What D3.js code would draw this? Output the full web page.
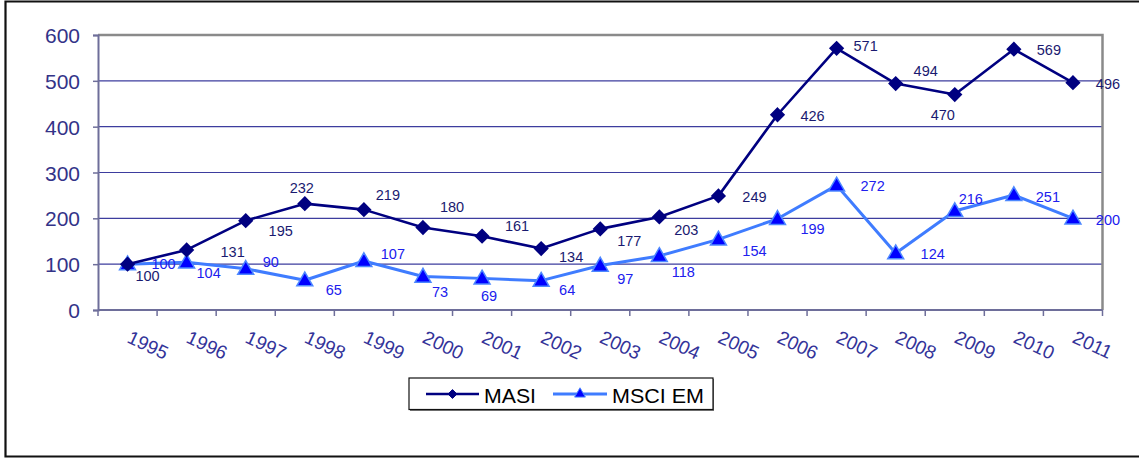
<!DOCTYPE html>
<html>
<head>
<meta charset="utf-8">
<script src="https://cdn.jsdelivr.net/npm/d3@7/dist/d3.min.js"></script>
<style>
  html, body { margin: 0; padding: 0; background: #fff; overflow: hidden; }
  svg { display: block; font-family: Arial, "Liberation Sans", sans-serif; }
</style>
</head>
<body>
<svg id="chart" width="1139" height="459"></svg>
<script>
// Index values, base 1995 = 100
const years = ["1995","1996","1997","1998","1999","2000","2001","2002","2003",
               "2004","2005","2006","2007","2008","2009","2010","2011"];
const masi   = [100, 131, 195, 232, 219, 180, 161, 134, 177, 203, 249, 426, 571, 494, 470, 569, 496];
const msciEm = [100, 104, 90, 65, 107, 73, 69, 64, 97, 118, 154, 199, 272, 124, 216, 251, 200];
const yTicks = [0, 100, 200, 300, 400, 500, 600];

// Hand-placed data label offsets (dx, dy) from each marker, in pixels
const masiLabelOffsets = [[20,12],[46,2],[35,10],[-3,-16],[24,-15],[29,-21],[35,-10],[30,8],
  [29,12],[27,13],[36,1],[35,1],[29,-3],[30,-13],[-12,20],[35,1],[35,1]];
const msciLabelOffsets = [[36,0],[22,10],[25,-7],[29,10],[29,-7],[17,15],[7,17],[26,9],
  [25,13],[24,16],[36,11],[35,10],[36,0],[37,1],[16,-12],[34,2],[35,1]];

const svg = d3.select("#chart");
const plot = { left: 98, right: 1102.5, top: 35, bottom: 310 };

const x = d3.scaleBand().domain(years).range([plot.left, plot.right]);
const y = d3.scaleLinear().domain([0, 600]).range([plot.bottom, plot.top]);
const cx = d => x(d) + x.bandwidth() / 2;

// Outer frame (open on the right)
svg.append("path")
  .attr("d", "M1145,1.5 H5.5 V456.5 H1145")
  .attr("fill", "none").attr("stroke", "#111").attr("stroke-width", 2.2);

// Gridlines
svg.append("g").selectAll("line").data(yTicks.filter(t => t > 0 && t < 600)).join("line")
  .attr("x1", plot.left).attr("x2", plot.right)
  .attr("y1", d => y(d)).attr("y2", d => y(d))
  .attr("stroke", "#3d3d9e").attr("stroke-width", 1.1);

// Plot frame: top and right edges
svg.append("path")
  .attr("d", `M${plot.left},${plot.top} H${plot.right} V${plot.bottom}`)
  .attr("fill", "none").attr("stroke", "#8a8a8a").attr("stroke-width", 2.5);

// Y axis
const yAxis = d3.axisLeft(y).tickValues(yTicks).tickSize(5).tickPadding(13);
const gy = svg.append("g").attr("transform", `translate(${plot.left},0)`).call(yAxis);
gy.select(".domain").attr("stroke", "#6e6e9a").attr("stroke-width", 2);
gy.selectAll(".tick line").attr("stroke", "#6e6e9a").attr("stroke-width", 1.5);
gy.selectAll(".tick text").attr("fill", "#333388")
  .style("font-size", "21px").style("font-family", "Arial, 'Liberation Sans', sans-serif")
  .attr("dy", "0.36em");

// X axis: ticks at category boundaries
const gx = svg.append("g").attr("transform", `translate(0,${plot.bottom})`);
gx.append("line").attr("x1", plot.left).attr("x2", plot.right)
  .attr("stroke", "#6e6e9a").attr("stroke-width", 2);
const edges = years.map(d => x(d)).concat([plot.right]);
gx.selectAll("line.tk").data(edges).join("line").attr("class", "tk")
  .attr("x1", d => d).attr("x2", d => d).attr("y1", 0).attr("y2", 6)
  .attr("stroke", "#6e6e9a").attr("stroke-width", 1.5);
gx.selectAll("text").data(years).join("text")
  .attr("transform", d => `translate(${cx(d) + 4},${20}) rotate(25)`)
  .attr("text-anchor", "start")
  .attr("dy", "0.7em")
  .attr("fill", "#333399")
  .style("font-size", "19px")
  .text(d => d);

// Series
const series = [
  { name: "MASI", values: masi, line: "#000080", lw: 2.6, mark: d3.symbolDiamond2, fill: "#000080", stroke: "#000080", size: 110, label: "#1a1a70", offsets: masiLabelOffsets },
  { name: "MSCI EM", values: msciEm, line: "#3f7cff", lw: 3, mark: d3.symbolTriangle, fill: "#0000ff", stroke: "#4d88ff", size: 110, label: "#2020ee", offsets: msciLabelOffsets }
];

const lineGen = (vals) => d3.line().x((d, i) => cx(years[i])).y(d => y(d))(vals);

// Draw MSCI EM first so MASI sits on top
[series[1], series[0]].forEach(s => {
  const g = svg.append("g");
  g.append("path").attr("d", lineGen(s.values))
    .attr("fill", "none").attr("stroke", s.line).attr("stroke-width", s.lw)
    .attr("stroke-linejoin", "round");
  g.selectAll("path.m").data(s.values).join("path").attr("class", "m")
    .attr("d", d3.symbol().type(s.mark).size(s.size))
    .attr("transform", (d, i) => `translate(${cx(years[i])},${y(d) + (s.mark === d3.symbolTriangle ? 1 : 0)})`)
    .attr("fill", s.fill).attr("stroke", s.stroke).attr("stroke-width", 1.5);
});

// Data labels
series.forEach(s => {
  svg.append("g").selectAll("text").data(s.values).join("text")
    .attr("x", (d, i) => cx(years[i]) + s.offsets[i][0])
    .attr("y", (d, i) => y(d) + s.offsets[i][1])
    .attr("text-anchor", "middle").attr("dy", "0.36em")
    .attr("fill", s.label)
    .style("font-size", "14.5px")
    .text(d => d);
});

// Legend
const lg = svg.append("g");
lg.append("rect").attr("x", 410).attr("y", 379).attr("width", 304).attr("height", 32)
  .attr("fill", "#777");
lg.append("rect").attr("x", 409).attr("y", 378).attr("width", 304).attr("height", 31.5)
  .attr("fill", "#fff").attr("stroke", "#111").attr("stroke-width", 1.2);
const items = [
  { s: series[0], x0: 426, x1: 479, tx: 484 },
  { s: series[1], x0: 553, x1: 607, tx: 612 }
];
items.forEach(it => {
  lg.append("line").attr("x1", it.x0).attr("x2", it.x1).attr("y1", 394).attr("y2", 394)
    .attr("stroke", it.s.line).attr("stroke-width", it.s.lw);
  lg.append("path").attr("d", d3.symbol().type(it.s.mark).size(50))
    .attr("transform", `translate(${(it.x0 + it.x1) / 2},394)`)
    .attr("fill", it.s.fill).attr("stroke", it.s.stroke).attr("stroke-width", 1);
  lg.append("text").attr("x", it.tx).attr("y", 395).attr("dy", "0.36em")
    .attr("fill", "#000").style("font-size", "21px")
    .attr("textLength", it.s.name === "MASI" ? 52 : 92).attr("lengthAdjust", "spacingAndGlyphs")
    .text(it.s.name);
});
</script>
</body>
</html>
